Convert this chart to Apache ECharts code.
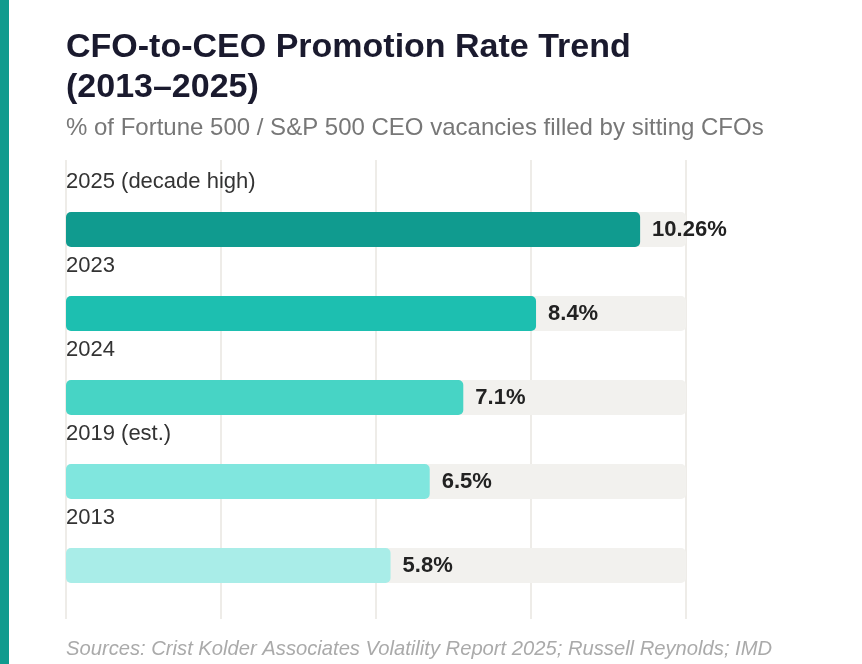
<!DOCTYPE html>
<html>
<head>
<meta charset="utf-8">
<script src="https://cdn.jsdelivr.net/npm/echarts@6/dist/echarts.min.js"></script>
<style>
html,body{margin:0;padding:0;background:#fff;}
#chart{width:862px;height:664px;}
</style>
</head>
<body>
<div id="chart"></div>
<script>
const categories = ['2025 (decade high)', '2023', '2024', '2019 (est.)', '2013'];
const values = [10.26, 8.4, 7.1, 6.5, 5.8];
const barColors = ['#109b8f', '#1dbfb0', '#47d4c5', '#80e6de', '#a9ede8'];
const valueLabels = ['10.26%', '8.4%', '7.1%', '6.5%', '5.8%'];
const axisMax = 11.08;
const axisInterval = 2.77;

const FONT = "'Liberation Sans', Arial, Helvetica, sans-serif";
const chart = echarts.init(document.getElementById('chart'));
chart.setOption({
  animation: false,
  backgroundColor: '#ffffff',
  graphic: [{
    type: 'rect', left: 0, top: 0, shape: { width: 9, height: 664 },
    style: { fill: '#109b8e' }, z: 10
  }],
  title: [
    {
      text: 'CFO-to-CEO Promotion Rate Trend\n(2013–2025)',
      left: 66 - 5, top: 28 - 5,
      textStyle: { fontFamily: FONT, fontSize: 34, fontWeight: 'bold', color: '#1a1a2e', lineHeight: 40 }
    },
    {
      text: '% of Fortune 500 / S&P 500 CEO vacancies filled by sitting CFOs',
      left: 66 - 5, top: 116 - 5,
      textStyle: { fontFamily: FONT, fontSize: 24, fontWeight: 'normal', color: '#777777', lineHeight: 24 }
    },
    {
      text: 'Sources: Crist Kolder Associates Volatility Report 2025; Russell Reynolds; IMD',
      left: 66 - 5, top: 639 - 5,
      textStyle: { fontFamily: FONT, fontSize: 20.2, fontWeight: 'normal', fontStyle: 'italic', color: '#aaaaaa', lineHeight: 20 }
    }
  ],
  grid: [
    { left: 66, right: 176, top: 187.5, bottom: 56.5 },
    { left: 66, right: 176, top: 160, bottom: 45 }
  ],
  xAxis: [
    { type: 'value', gridIndex: 0, min: 0, max: axisMax, interval: axisInterval,
      axisLine: { show: false }, axisTick: { show: false }, axisLabel: { show: false }, splitLine: { show: false } },
    { type: 'value', gridIndex: 1, min: 0, max: axisMax, interval: axisInterval,
      axisLine: { show: false }, axisTick: { show: false }, axisLabel: { show: false },
      splitLine: { show: true, lineStyle: { color: '#e8e6e1', width: 1.5 } } }
  ],
  yAxis: [
    { type: 'category', gridIndex: 0, data: categories, inverse: true,
      axisLine: { show: false }, axisTick: { show: false },
      axisLabel: { inside: true, margin: 0, align: 'left', verticalAlign: 'bottom',
        padding: [0, 0, 37, 0], lineHeight: 22,
        fontFamily: FONT, fontSize: 22, color: '#333333' },
      z: 5 },
    { type: 'category', gridIndex: 1, data: categories, show: false }
  ],
  series: [{
    type: 'bar',
    xAxisIndex: 0, yAxisIndex: 0,
    data: values.map((v, i) => ({ value: v, itemStyle: { color: barColors[i] } })),
    barWidth: 35,
    itemStyle: { borderRadius: 5 },
    showBackground: true,
    backgroundStyle: { color: '#f2f1ee', borderRadius: 5 },
    label: {
      show: true, position: 'right', distance: 12,
      formatter: p => valueLabels[p.dataIndex],
      fontFamily: FONT, fontSize: 22, fontWeight: 'bold', color: '#222222'
    }
  }]
});
</script>
</body>
</html>
